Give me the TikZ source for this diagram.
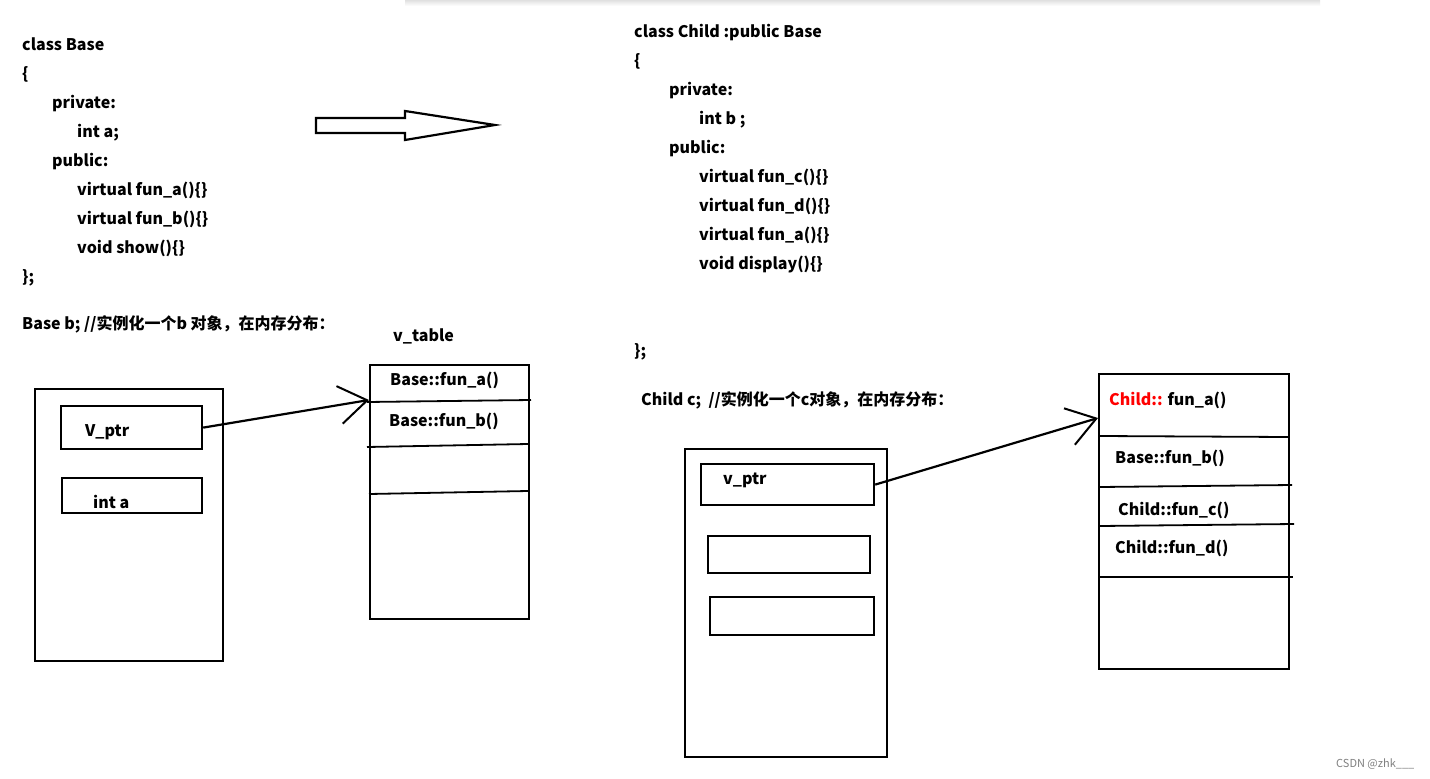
\documentclass[tikz,border=0pt]{standalone}
\usepackage{fontspec}
\setmainfont{Noto Sans CJK SC}
\usetikzlibrary{arrows.meta}
\begin{document}
\begin{tikzpicture}[x=1pt,y=-1pt,
  txt/.style={anchor=base west, inner sep=0pt, font=\bfseries\fontsize{16}{19}\selectfont},
  box/.style={draw, line width=2.2pt, anchor=north west, inner sep=0pt},
  sep/.style={line width=1.8pt},
  ptr/.style={line width=2.2pt, -{Straight Barb[length=28pt,width=38pt,line width=2pt]}},
  wm/.style={anchor=base west, inner sep=0pt, font=\fontsize{11}{13}\selectfont, text=gray}]
\useasboundingbox (0,0) rectangle (1430,779);
\fill[white] (0,0) rectangle (1430,779);
% top shadow
\shade[top color=black!12, bottom color=white] (405,0) rectangle (1320,6);

% ---- left code ----
\node[txt] (l1) at (22,50) {class Base};
\node[txt] (l2) at (22,79) {\{};
\node[txt] (l3) at (52,108) {private:};
\node[txt] (l4) at (77,137) {int a;};
\node[txt] (l5) at (52,166) {public:};
\node[txt] (l6) at (77,195) {virtual fun\_a()\{\}};
\node[txt] (l7) at (77,224) {virtual fun\_b()\{\}};
\node[txt] (l8) at (77,253) {void show()\{\}};
\node[txt] (l9) at (22,282) {\};};
\node[txt] (l10) at (22,329) {Base b; //实例化一个b 对象，在内存分布：};
\node[txt] (vtl) at (393,341) {v\_table};

% ---- hollow arrow ----
\draw[line width=2.2pt, line join=miter] (316,118) -- (405,118) -- (405,111) -- (495,125) -- (405,140) -- (405,133) -- (316,133) -- cycle;

% ---- left object ----
\node[box, minimum width=188pt, minimum height=272pt] (bobj) at (34,388) {};
\node[box, minimum width=141pt, minimum height=43pt] (bvptr) at (60,405) {};
\node[txt] at (85,436) {V\_ptr};
\node[box, minimum width=140pt, minimum height=35pt] (binta) at (61,477) {};
\node[txt] at (93,508) {int a};

% ---- left vtable ----
\node[box, minimum width=159pt, minimum height=254pt] (bvt) at (369,364) {};
\draw[sep] (367,402) -- (531,400);
\draw[sep] (367,447) -- (528,444);
\draw[sep] (369,494) -- (528,491);
\node[txt] at (390,385) {Base::fun\_a()};
\node[txt] at (389,426) {Base::fun\_b()};
\coordinate (btip) at (369,400);
\draw[ptr] (bvptr.east) -- (btip);

% ---- right code ----
\node[txt] (r1) at (634,37) {class Child :public Base};
\node[txt] (r2) at (634,66) {\{};
\node[txt] (r3) at (669,95) {private:};
\node[txt] (r4) at (699,124) {int b ;};
\node[txt] (r5) at (669,153) {public:};
\node[txt] (r6) at (699,182) {virtual fun\_c()\{\}};
\node[txt] (r7) at (699,211) {virtual fun\_d()\{\}};
\node[txt] (r8) at (699,240) {virtual fun\_a()\{\}};
\node[txt] (r9) at (699,269) {void display()\{\}};
\node[txt] (r10) at (634,356) {\};};
\node[txt] (r11) at (641,405) {Child c;~ //实例化一个c对象，在内存分布：};

% ---- child object ----
\node[box, minimum width=202pt, minimum height=308pt] (cobj) at (684,448) {};
\node[box, minimum width=173pt, minimum height=41pt] (cvptr) at (700,463) {};
\node[txt] at (723,484) {v\_ptr};
\node[box, minimum width=162pt, minimum height=37pt] (cb2) at (707,535) {};
\node[box, minimum width=164pt, minimum height=38pt] (cb3) at (709,596) {};

% ---- child vtable ----
\node[box, minimum width=190pt, minimum height=295pt] (cvt) at (1098,373) {};
\draw[sep] (1100,436) -- (1288,437);
\draw[sep] (1100,487) -- (1292,485);
\draw[sep] (1100,526) -- (1294,524);
\draw[sep] (1100,577) -- (1293,577);
\node[txt] at (1109,405) {\textcolor{red}{Child::} fun\_a()};
\node[txt] at (1115,463) {Base::fun\_b()};
\node[txt] at (1118,515) {Child::fun\_c()};
\node[txt] at (1115,553) {Child::fun\_d()};
\coordinate (ctip) at (1098,418);
\draw[ptr] (cvptr.east) -- (ctip);

% watermark
\node[wm] at (1336,767) {CSDN @zhk\_\_\_};
\end{tikzpicture}
\end{document}
